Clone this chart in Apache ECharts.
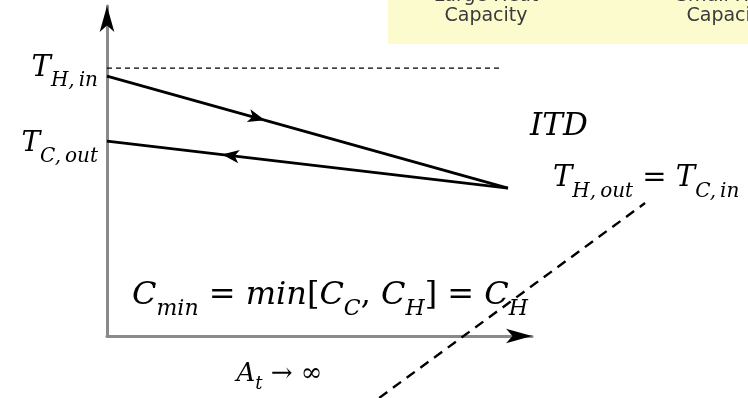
<!DOCTYPE html>
<html>
<head>
<meta charset="utf-8">
<script src="https://cdn.jsdelivr.net/npm/echarts@6/dist/echarts.min.js"></script>
<style>
  html, body { margin: 0; padding: 0; background: #ffffff; }
  #chart { width: 748px; height: 398px; }
</style>
</head>
<body>
<div id="chart"></div>
<script>
// Counter-flow exchanger with infinite area: temperature along the exchanger.
// x = position along the exchanger, y = temperature (arbitrary units).
const xMax = 10.6;
const yMax = 13.55;

const hotStream = [[0, 10.67], [10, 6.07]];          // hot side, inlet -> outlet
const coldStream = [[0, 8], [10, 6.07]];             // cold side, outlet <- inlet
const hotInletLevel = [[0, 11], [9.8, 11]];          // T_H,in reference level
const itdLeader = [[6.79, -2.54], [13.42, 5.46]];    // leader line towards the ITD note

// flow-direction arrowheads (tip position) on each stream: [x, y, angle]
const hotFlowArrow = [[3.94, 8.86, -105.6]];
const coldFlowArrow = [[2.87, 7.45, 83.3]];

// arrowheads (tip position) at the ends of the two axes: [x, y, angle]
const axisHeads = [[xMax, 0, -90], [0, yMax, 0]];

// temperature levels named on the vertical axis
const yTickValues = [11, 8];
const yTickLabels = ['{m|T}{s|H,\u2009in}', '{n|T}{t|C,\u2009out}'];

const xAxisTitle = '{m|A}{s|t}{u| → ∞}';
const itdText = 'ITD';
const outletText = '{m|T}{s|H,\u2009out}{u| = }{m|T}{s|C,\u2009in}';
const cminText = '{m|C}{s|min}{u| = }{m|min}{u|[}{m|C}{s|C}{u|, }{m|C}{s|H}{u|] = }{m|C}{s|H}';

const panelColumns = ['Large Heat', 'Small Heat'];
const panelSecondLine = ['Capacity', 'Capacity'];

const MATH = '"DejaVu Serif", serif';

// rich styles for a main symbol with a dropped subscript
function mathRich(F, f, drop, topPad, keys) {
  const k = keys || ['m', 's', 'u'];
  const r = {};
  r[k[0]] = { fontFamily: MATH, fontStyle: 'italic', fontSize: F, lineHeight: F,
              padding: [topPad, 0, 0, 0], verticalAlign: 'top', color: '#000' };
  r[k[1]] = { fontFamily: MATH, fontStyle: 'italic', fontSize: f, lineHeight: f,
              padding: [topPad + F / 2 + drop - f / 2, 0, 0, 0], verticalAlign: 'top', color: '#000' };
  if (k[2]) {
    r[k[2]] = { fontFamily: MATH, fontSize: F, lineHeight: F,
                padding: [topPad, 0, 0, 0], verticalAlign: 'top', color: '#000' };
  }
  return r;
}

const chart = echarts.init(document.getElementById('chart'), null, { renderer: 'canvas' });

const arrowSeries = (name, data, size) => ({
  name: name,
  type: 'scatter',
  data: data.map(d => ({ value: [d[0], d[1]], symbolRotate: d[2] })),
  symbol: 'arrow',
  symbolSize: size,
  itemStyle: { color: '#000', opacity: 1 },
  clip: false,
  silent: true,
  z: 5
});

const yRich = Object.assign({}, mathRich(29, 20, 13, 0, ['m', 's']), mathRich(28, 20, 13, 3, ['n', 't']));

// second, hidden frame with the same scale that spans the whole canvas,
// so the leader line can run past the plotting area
const pxPerX = (532 - 107) / xMax;
const pxPerY = (336 - 6) / yMax;
const fullXMax = (748 - 107) / pxPerX;
const fullYMin = -(398 - 336) / pxPerY;

chart.setOption({
  animation: false,
  backgroundColor: '#ffffff',
  grid: [
    { left: 107, top: 6, right: 748 - 532, bottom: 398 - 336, outerBoundsMode: 'none' },
    { left: 107, top: 6, right: 0, bottom: 0, outerBoundsMode: 'none' }
  ],
  xAxis: [
    {
      type: 'value', min: 0, max: xMax, gridIndex: 0,
      axisLine: { lineStyle: { color: '#8a8a8a', width: 3 } },
      axisTick: { show: false }, axisLabel: { show: false }, splitLine: { show: false },
      name: xAxisTitle, nameLocation: 'middle', nameGap: 25,
      nameTextStyle: { padding: [0, 80, 0, 0], rich: mathRich(26, 18, 10, 0) }
    },
    { type: 'value', min: 0, max: fullXMax, gridIndex: 1, show: false }
  ],
  yAxis: [
    {
      type: 'value', min: 0, max: yMax, interval: 1, gridIndex: 0,
      axisLine: { lineStyle: { color: '#8a8a8a', width: 3 } },
      axisTick: { show: false }, splitLine: { show: false },
      axisLabel: {
        margin: 9,
        formatter: v => {
          const i = yTickValues.indexOf(v);
          return i >= 0 ? yTickLabels[i] : '';
        },
        rich: yRich
      }
    },
    { type: 'value', min: fullYMin, max: yMax, gridIndex: 1, show: false }
  ],
  series: [
    {
      name: 'hot', type: 'line', data: hotStream, showSymbol: false, silent: true,
      lineStyle: { color: '#000', width: 2.8 }, z: 4
    },
    {
      name: 'cold', type: 'line', data: coldStream, showSymbol: false, silent: true,
      lineStyle: { color: '#000', width: 2.8 }, z: 4
    },
    {
      name: 'hot inlet', type: 'line', data: hotInletLevel, showSymbol: false, silent: true,
      lineStyle: { color: '#000', width: 1.4, type: [5, 4] }, z: 3
    },
    {
      name: 'leader', type: 'line', data: itdLeader, showSymbol: false, silent: true,
      xAxisIndex: 1, yAxisIndex: 1, clip: false,
      lineStyle: { color: '#000', width: 2.4, type: [10, 7] }, z: 6
    },
    arrowSeries('hot flow', hotFlowArrow, [10, 17]),
    arrowSeries('cold flow', coldFlowArrow, [10, 17]),
    arrowSeries('axis heads', axisHeads, [11, 26])
  ],
  graphic: [
    {
      type: 'rect', left: 388, top: 0, silent: true, z: 1,
      shape: { width: 360, height: 44 },
      style: { fill: '#fcfbcd' }
    },
    {
      type: 'text', silent: true, z: 2,
      style: { x: 486, y: -3.5, text: panelColumns[0], align: 'center', verticalAlign: 'middle',
               font: '19px "DejaVu Sans", sans-serif', fill: '#3a3a3a' }
    },
    {
      type: 'text', silent: true, z: 2,
      style: { x: 728, y: -3.5, text: panelColumns[1], align: 'center', verticalAlign: 'middle',
               font: '19px "DejaVu Sans", sans-serif', fill: '#3a3a3a' }
    },
    {
      type: 'text', silent: true, z: 2,
      style: { x: 486, y: 16.5, text: panelSecondLine[0], align: 'center', verticalAlign: 'middle',
               font: '19px "DejaVu Sans", sans-serif', fill: '#3a3a3a' }
    },
    {
      type: 'text', silent: true, z: 2,
      style: { x: 728, y: 16.5, text: panelSecondLine[1], align: 'center', verticalAlign: 'middle',
               font: '19px "DejaVu Sans", sans-serif', fill: '#3a3a3a' }
    },
    {
      type: 'text', silent: true, z: 7,
      style: { x: 530, y: 111, text: itdText, verticalAlign: 'top',
               font: 'italic 31px "DejaVu Serif", serif', fill: '#000' }
    },
    {
      type: 'text', silent: true, z: 7,
      style: { x: 553, y: 164, text: outletText, verticalAlign: 'top', rich: mathRich(29, 20, 13, 0) }
    },
    {
      type: 'text', silent: true, z: 7,
      style: { x: 132, y: 280, text: cminText, verticalAlign: 'top', rich: mathRich(32, 22, 13, 0) }
    }
  ]
});
</script>
</body>
</html>
